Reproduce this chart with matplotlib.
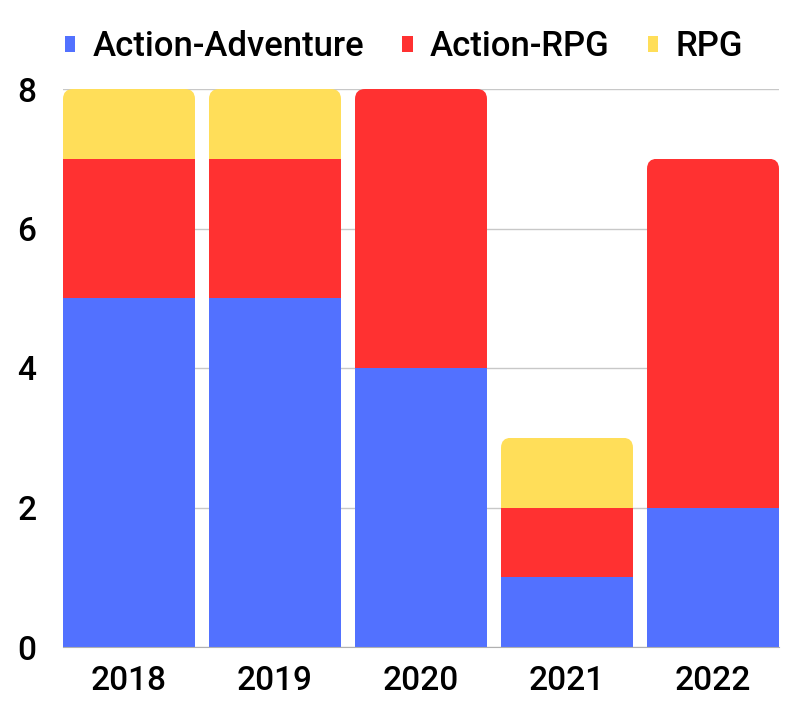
import matplotlib.pyplot as plt
from matplotlib.patches import FancyBboxPatch, Patch

plt.rcParams['font.family'] = ['Roboto', 'DejaVu Sans']

years = ["2018", "2019", "2020", "2021", "2022"]
action_adventure = [5, 5, 4, 1, 2]
action_rpg = [2, 2, 4, 1, 5]
rpg = [1, 1, 0, 1, 0]

series = [("Action-Adventure", action_adventure, "#5271FF"),
          ("Action-RPG", action_rpg, "#FF3131"),
          ("RPG", rpg, "#FFDE59")]

fig = plt.figure(figsize=(8, 7.23), dpi=100)
ax = fig.add_axes([63 / 800, 1 - 647 / 723, 716 / 800, 558 / 723])

width = 0.904
x = list(range(len(years)))
ax.set_xlim(-width / 2, len(years) - 1 + width / 2)
ax.set_ylim(0, 8)

bottoms = [0] * len(years)
bars = []
for name, vals, color in series:
    b = ax.bar(x, vals, width, bottom=bottoms, color=color, linewidth=0, zorder=2)
    bars.append(b)
    bottoms = [bt + v for bt, v in zip(bottoms, vals)]

# round the top corners of each stack
rx = 10 / 143.2
ry = 10 / 69.75
for i in range(len(years)):
    top_series = max(k for k in range(len(series)) if series[k][1][i] > 0)
    rect = bars[top_series][i]
    clip = FancyBboxPatch((rect.get_x(), rect.get_y() - 1), rect.get_width(),
                          rect.get_height() + 1,
                          boxstyle=f"round,pad=0,rounding_size={rx}",
                          mutation_aspect=ry / rx, transform=ax.transData,
                          facecolor="none", edgecolor="none")
    ax.add_patch(clip)
    rect.set_clip_path(clip)

ax.set_yticks([0, 2, 4, 6, 8])
ax.grid(axis="y", color="#c8c8c8", linewidth=1, zorder=0)
ax.set_axisbelow(True)
for s in ["top", "right", "left"]:
    ax.spines[s].set_visible(False)
ax.spines["bottom"].set_color("#b0b0b0")
ax.spines["bottom"].set_zorder(3)
ax.set_xticks(x)
ax.set_xticklabels(years)
ax.tick_params(axis="both", length=0, labelsize=24, colors="black")
ax.tick_params(axis="x", pad=13)
ax.tick_params(axis="y", pad=19)
for lbl in ax.get_xticklabels() + ax.get_yticklabels():
    lbl.set_fontweight("medium")

handles = [Patch(facecolor=c, edgecolor="none", label=n) for n, _, c in series]
leg = fig.legend(handles=handles, loc="center", bbox_to_anchor=(0.505, 1 - 47 / 723),
                 ncol=3, frameon=False, fontsize=25, handlelength=0.3,
                 handleheight=0.3, handletextpad=0.5, columnspacing=1.1)
for t in leg.get_texts():
    t.set_fontweight("medium")

fig.savefig("out.png", dpi=100)
